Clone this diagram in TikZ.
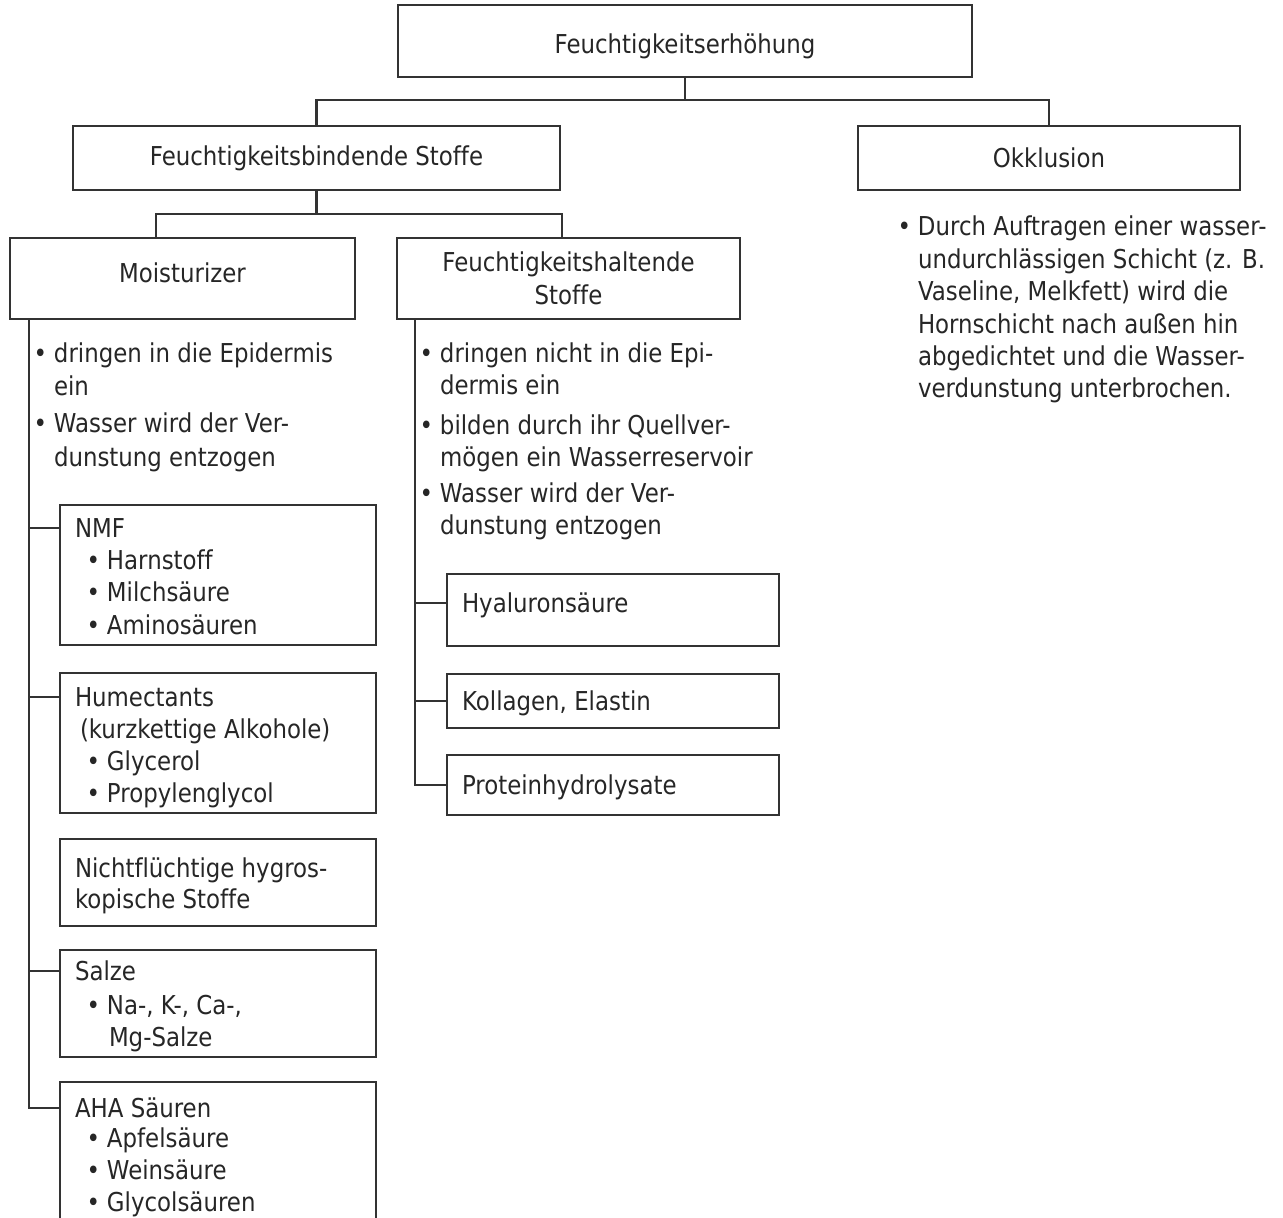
\documentclass[tikz,border=0pt]{standalone}
\usepackage{fontspec}
\setmainfont{DejaVu Sans}[FakeStretch=0.88,Ligatures=NoCommon]
\usetikzlibrary{positioning}
\definecolor{lncol}{RGB}{51,51,51}
\definecolor{txcol}{RGB}{38,38,38}
\newcommand{\bul}{\llap{\textbullet\hspace{7pt}}}

\begin{document}
\begin{tikzpicture}[x=1pt,y=-1pt,every node/.style={outer sep=0pt,inner sep=0pt},
        line/.style={draw=lncol,line width=2.7pt},
        box/.style n args={2}{line,anchor=north west,minimum width=#1,minimum height=#2},
        txt/.style={text=txcol,font=\fontsize{26}{32.4}\selectfont},
        item/.style={txt,anchor=west,text height=19pt,text depth=0pt}]

        \useasboundingbox (0,0) rectangle (1283,1218);
        \clip (0,0) rectangle (1283,1218);

        % Top level
        \node[box={574}{72},txt,text height=24pt,text depth=0pt] (top) at (398,5) {Feuchtigkeitserhöhung};
        \node[box={487}{64},txt] (fbs) at (73,126) {Feuchtigkeitsbindende Stoffe};
        \node[box={382}{64},txt] (okk) at (858,126) {Okklusion};
        \draw[line] (top.south) -- ++(0,23) coordinate(aux) -| (fbs.north);
        \draw[line] (aux) -| (okk.north);

        % Okklusion
        \node[item] (okk1) at (918,226) {\bul Durch Auftragen einer wasser-};
        \node[item] (okk2) at (918,259) {undurchlässigen Schicht (z. B.};
        \node[item] (okk3) at (918,291) {Vaseline, Melkfett) wird die};
        \node[item] (okk4) at (918,324) {Hornschicht nach außen hin};
        \node[item] (okk5) at (918,356) {abgedichtet und die Wasser-};
        \node[item] (okk6) at (918,388) {verdunstung unterbrochen.};

        % Second level
        \node[box={345}{81},txt,text height=8pt,text depth=0pt] (moist) at (10,238) {Moisturizer};
        \node[box={343}{81},txt,align=center] (fhs) at (397,238) {Feuchtigkeitshaltende\\Stoffe};
        \draw[line] (fbs.south) -- ++(0,24) coordinate(aux') -| ([xshift=146]moist.north west);
        \draw[line] (aux') -| ([xshift=165]fhs.north west);

        % Moisturizer
        \node[item] (m1) at (54,353) {\bul dringen in die Epidermis};
        \node[item] (m2) at (54,386) {ein};
        \node[item] (m3) at (54,423) {\bul Wasser wird der Ver-};
        \node[item] (m4) at (54,457) {dunstung entzogen};

        \node[box={316}{140}] (nmf) at (60,505) {};
        \node[item] (nmfh) at (75,528) {NMF};
        \node[item] (nmf1) at (107,560) {\bul Harnstoff};
        \node[item] (nmf2) at (107,592) {\bul Milchsäure};
        \node[item] (nmf3) at (107,625) {\bul Aminosäuren};

        \node[box={316}{140}] (hum) at (60,673) {};
        \node[item] (humh) at (75,697) {Humectants};
        \node[item] (hum1) at (80,729) {(kurzkettige Alkohole)};
        \node[item] (hum2) at (107,761) {\bul Glycerol};
        \node[item] (hum3) at (107,793) {\bul Propylenglycol};

        \node[box={316}{87}] (nfs) at (60,839) {};
        \node[item] (nfs1) at (75,868) {Nichtflüchtige hygros-};
        \node[item] (nfs2) at (75,899) {kopische Stoffe};

        \node[box={316}{107}] (salz) at (60,950) {};
        \node[item] (salzh) at (75,971) {Salze};
        \node[item] (salz1) at (107,1005) {\bul Na-, K-, Ca-,};
        \node[item] (salz2) at (109,1037) {Mg-Salze};

        \node[box={316}{160}] (aha) at (60,1082) {};
        \node[item] (ahah) at (75,1108) {AHA Säuren};
        \node[item] (aha1) at (107,1138) {\bul Apfelsäure};
        \node[item] (aha2) at (107,1170) {\bul Weinsäure};
        \node[item] (aha3) at (107,1202) {\bul Glycolsäuren};

        \coordinate (mtr) at ([xshift=19]moist.south west);
        \draw[line] (mtr) |- (aha.west |- ahah);
        \draw[line] (mtr |- nmfh) -- (nmf.west |- nmfh);
        \draw[line] (mtr |- humh) -- (hum.west |- humh);
        \draw[line] (mtr |- salzh) -- (salz.west |- salzh);

        % Feuchtigkeitshaltende Stoffe
        \node[item] (f1) at (440,353) {\bul dringen nicht in die Epi-};
        \node[item] (f2) at (440,385) {dermis ein};
        \node[item] (f3) at (440,425) {\bul bilden durch ihr Quellver-};
        \node[item] (f4) at (440,457) {mögen ein Wasserreservoir};
        \node[item] (f5) at (440,493) {\bul Wasser wird der Ver-};
        \node[item] (f6) at (440,525) {dunstung entzogen};

        \node[box={332}{72}] (hya) at (447,574) {};
        \node[item] (hyat) at (462,603) {Hyaluronsäure};
        \node[box={332}{54}] (kol) at (447,674) {};
        \node[item] (kolt) at (462,701) {Kollagen, Elastin};
        \node[box={332}{60}] (pro) at (447,755) {};
        \node[item] (prot) at (462,785) {Proteinhydrolysate};

        \coordinate (ftr) at ([xshift=18]fhs.south west);
        \draw[line] (ftr) |- (pro.west |- prot);
        \draw[line] (ftr |- hyat) -- (hya.west |- hyat);
        \draw[line] (ftr |- kolt) -- (kol.west |- kolt);

\end{tikzpicture}
\end{document}
